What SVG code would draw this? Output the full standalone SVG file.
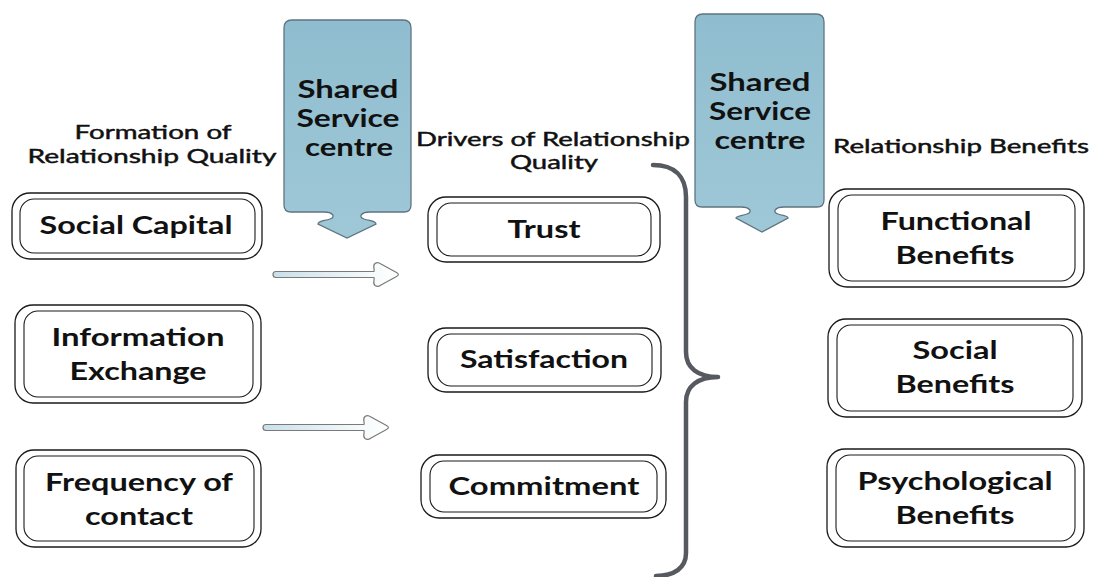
<svg xmlns="http://www.w3.org/2000/svg" xmlns:xlink="http://www.w3.org/1999/xlink" width="1096" height="577" viewBox="0 0 1096 577">
  <style>
    .bg { fill: #ffffff; }
    .outer { fill: #ffffff; stroke: #1a1a1a; stroke-width: 1.3; }
    .inner { fill: #ffffff; stroke: #1a1a1a; stroke-width: 1.1; }
    .lbl { font-family: Lato, "Open Sans", sans-serif; font-weight: 700; font-size: 24px; fill: #111111; text-anchor: middle; }
    .head { font-family: Lato, "Open Sans", sans-serif; font-weight: 400; font-size: 19px; fill: #111111; stroke: #111111; stroke-width: 0.45; text-anchor: middle; }
    .ssc-title { font-family: Lato, "Open Sans", sans-serif; font-weight: 700; font-size: 24px; fill: #111111; text-anchor: middle; }
    .ssc { fill: url(#sscFill); stroke: #5f7480; stroke-width: 1.3; }
    .flow { fill: url(#flowFill); stroke: #7a7a7a; stroke-width: 1.2; stroke-linejoin: round; }
    .brace { fill: none; stroke: #56595f; stroke-width: 4.5; stroke-linecap: round; stroke-linejoin: round; }
  </style>
  <defs>
    <linearGradient id="sscFill" x1="0" y1="0" x2="0" y2="1">
      <stop offset="0" stop-color="#8fbdcf"/>
      <stop offset="1" stop-color="#9fc8d7"/>
    </linearGradient>
    <linearGradient id="flowFill" x1="0" y1="0" x2="1" y2="0">
      <stop offset="0" stop-color="#c9e0e9"/>
      <stop offset="0.75" stop-color="#f4f9fb"/>
      <stop offset="1" stop-color="#ffffff"/>
    </linearGradient>
    <!-- thin block arrow pointing right -->
    <path id="flowArrow" d="M 276 271.5 H 374 C 375 269 372 266 375 263.5 C 377 262 379 262.5 381 264 L 396.5 272.5 C 399 274 399 275 396.5 276.5 L 381 285 C 379 286.5 377 287 375 285.5 C 372 283 375 280 374 277.5 H 276 C 272 277.5 272 271.5 276 271.5 Z"/>
  </defs>

  <rect class="bg" x="0" y="0" width="1096" height="577"/>

  <!-- column headings -->
  <g id="heading-formation">
    <text class="head" x="153" y="139" textLength="157" lengthAdjust="spacingAndGlyphs">Formation of</text>
    <text class="head" x="152" y="163" textLength="249" lengthAdjust="spacingAndGlyphs">Relationship Quality</text>
  </g>
  <g id="heading-drivers">
    <text class="head" x="553" y="146" textLength="274" lengthAdjust="spacingAndGlyphs">Drivers of Relationship</text>
    <text class="head" x="554" y="169" textLength="88" lengthAdjust="spacingAndGlyphs">Quality</text>
  </g>
  <g id="heading-benefits">
    <text class="head" x="961" y="153" textLength="256" lengthAdjust="spacingAndGlyphs">Relationship Benefits</text>
  </g>

  <!-- shared service centre callouts -->
  <g id="ssc-left">
    <path class="ssc" d="M 292 20 H 403 Q 411 20 411 28 V 205 Q 411 212 404 212 H 370 C 361 212 358 217 364 219 C 370 221 376 221 376 224 L 347 238 L 318 224 C 318 221 324 221 330 219 C 336 217 333 212 324 212 H 291 Q 284 212 284 205 V 28 Q 284 20 292 20 Z"/>
    <text class="ssc-title" x="348" y="98" textLength="101" lengthAdjust="spacingAndGlyphs">Shared</text>
    <text class="ssc-title" x="348" y="127" textLength="103" lengthAdjust="spacingAndGlyphs">Service</text>
    <text class="ssc-title" x="349" y="156" textLength="88" lengthAdjust="spacingAndGlyphs">centre</text>
  </g>
  <g id="ssc-right">
    <path class="ssc" d="M 703 14 H 816 Q 824 14 824 22 V 200 Q 824 207 817 207 H 784 C 775 207 772 212 778 214 C 784 216 788 216 788 218 L 762 232 L 736 218 C 736 216 741 216 747 214 C 753 212 750 207 741 207 H 702 Q 695 207 695 200 V 22 Q 695 14 703 14 Z"/>
    <text class="ssc-title" x="760" y="91" textLength="101" lengthAdjust="spacingAndGlyphs">Shared</text>
    <text class="ssc-title" x="760" y="120" textLength="102" lengthAdjust="spacingAndGlyphs">Service</text>
    <text class="ssc-title" x="760" y="149" textLength="91" lengthAdjust="spacingAndGlyphs">centre</text>
  </g>

  <!-- formation of relationship quality -->
  <g id="social-capital">
    <rect class="outer" x="12" y="193" width="250" height="66" rx="18"/>
    <rect class="inner" x="20" y="199" width="235" height="54" rx="14"/>
    <text class="lbl" x="136" y="234" textLength="193" lengthAdjust="spacingAndGlyphs">Social Capital</text>
  </g>
  <g id="information-exchange">
    <rect class="outer" x="15" y="305" width="246" height="98" rx="18"/>
    <rect class="inner" x="24" y="311" width="229" height="86" rx="14"/>
    <text class="lbl" x="138" y="346" textLength="173" lengthAdjust="spacingAndGlyphs">Information</text>
    <text class="lbl" x="138" y="380" textLength="137" lengthAdjust="spacingAndGlyphs">Exchange</text>
  </g>
  <g id="frequency-of-contact">
    <rect class="outer" x="16" y="450" width="245" height="97" rx="18"/>
    <rect class="inner" x="24" y="456" width="230" height="85" rx="14"/>
    <text class="lbl" x="139" y="491" textLength="188" lengthAdjust="spacingAndGlyphs">Frequency of</text>
    <text class="lbl" x="139" y="525" textLength="108" lengthAdjust="spacingAndGlyphs">contact</text>
  </g>

  <!-- drivers of relationship quality -->
  <g id="trust">
    <rect class="outer" x="428" y="197" width="232" height="65" rx="18"/>
    <rect class="inner" x="437" y="203" width="214" height="53" rx="14"/>
    <text class="lbl" x="544" y="238" textLength="73" lengthAdjust="spacingAndGlyphs">Trust</text>
  </g>
  <g id="satisfaction">
    <rect class="outer" x="428" y="328" width="233" height="64" rx="18"/>
    <rect class="inner" x="437" y="334" width="215" height="52" rx="14"/>
    <text class="lbl" x="544" y="368" textLength="168" lengthAdjust="spacingAndGlyphs">Satisfaction</text>
  </g>
  <g id="commitment">
    <rect class="outer" x="421" y="455" width="245" height="63" rx="18"/>
    <rect class="inner" x="430" y="461" width="227" height="51" rx="14"/>
    <text class="lbl" x="544" y="495" textLength="191" lengthAdjust="spacingAndGlyphs">Commitment</text>
  </g>

  <!-- relationship benefits -->
  <g id="functional-benefits">
    <rect class="outer" x="829" y="189" width="255" height="98" rx="18"/>
    <rect class="inner" x="838" y="195" width="237" height="86" rx="14"/>
    <text class="lbl" x="956" y="230" textLength="151" lengthAdjust="spacingAndGlyphs">Functional</text>
    <text class="lbl" x="955" y="264" textLength="119" lengthAdjust="spacingAndGlyphs">Benefits</text>
  </g>
  <g id="social-benefits">
    <rect class="outer" x="828" y="319" width="254" height="98" rx="18"/>
    <rect class="inner" x="837" y="325" width="236" height="86" rx="14"/>
    <text class="lbl" x="955" y="359" textLength="85" lengthAdjust="spacingAndGlyphs">Social</text>
    <text class="lbl" x="955" y="393" textLength="119" lengthAdjust="spacingAndGlyphs">Benefits</text>
  </g>
  <g id="psychological-benefits">
    <rect class="outer" x="827" y="449" width="257" height="98" rx="18"/>
    <rect class="inner" x="836" y="455" width="239" height="86" rx="14"/>
    <text class="lbl" x="955" y="490" textLength="195" lengthAdjust="spacingAndGlyphs">Psychological</text>
    <text class="lbl" x="955" y="524" textLength="119" lengthAdjust="spacingAndGlyphs">Benefits</text>
  </g>

  <!-- connectors -->
  <g id="connectors">
    <use xlink:href="#flowArrow" href="#flowArrow" class="flow"/>
    <use xlink:href="#flowArrow" href="#flowArrow" class="flow" transform="translate(-10 153)"/>
    <path class="brace" d="M 653 165 C 674 165 686 176 686 197 L 686 352 C 686 368 698 377 718 377 C 698 377 686 386 686 402 L 686 553 C 686 568 674 576 656 576"/>
  </g>
</svg>
